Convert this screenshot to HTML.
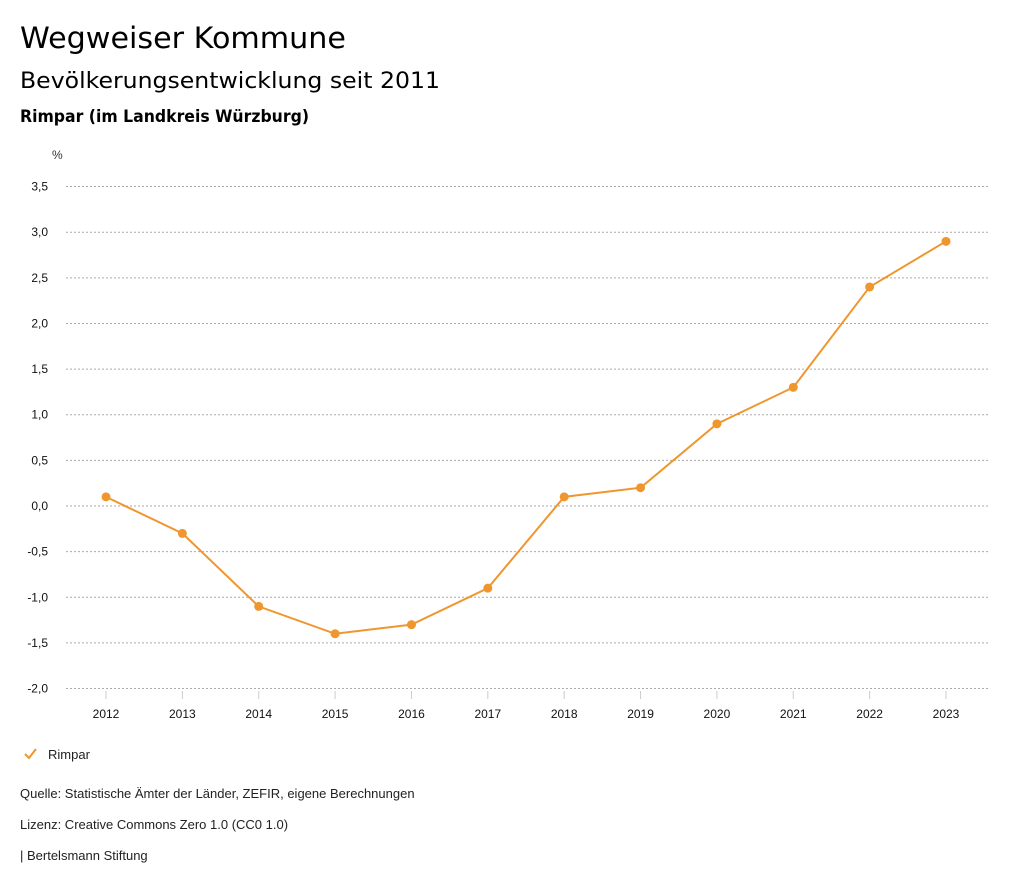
<!DOCTYPE html>
<html><head><meta charset="utf-8"><style>
html,body{margin:0;padding:0;background:#fff;}
svg{display:block;}
</style></head><body>
<svg id="c" width="1024" height="888" viewBox="0 0 1024 888" xmlns="http://www.w3.org/2000/svg">
<text x="20" y="48" font-family="DejaVu Sans, sans-serif" font-size="29" fill="#000" textLength="326" lengthAdjust="spacingAndGlyphs">Wegweiser Kommune</text>
<text x="20" y="88" font-family="DejaVu Sans, sans-serif" font-size="22" fill="#000" textLength="420" lengthAdjust="spacingAndGlyphs">Bevölkerungsentwicklung seit 2011</text>
<text x="20" y="122" font-family="DejaVu Sans, sans-serif" font-size="17" font-weight="bold" fill="#000" textLength="289" lengthAdjust="spacingAndGlyphs">Rimpar (im Landkreis Würzburg)</text>
<text x="52" y="159" font-family="Liberation Sans, sans-serif" font-size="12" fill="#333">%</text>
<g id="grid"></g>
<g id="xaxis"></g>
<g id="series"></g>
<g>
<polyline points="25,754 29,758 36,749" fill="none" stroke="#f0962e" stroke-width="2"/>
<text x="48" y="759" font-family="Liberation Sans, sans-serif" font-size="13" fill="#222">Rimpar</text>
</g>
<text x="20" y="798" font-family="Liberation Sans, sans-serif" font-size="13" fill="#222">Quelle: Statistische Ämter der Länder, ZEFIR, eigene Berechnungen</text>
<text x="20" y="829" font-family="Liberation Sans, sans-serif" font-size="13" fill="#222">Lizenz: Creative Commons Zero 1.0 (CC0 1.0)</text>
<text x="20" y="860" font-family="Liberation Sans, sans-serif" font-size="13" fill="#222">| Bertelsmann Stiftung</text>
</svg>
<script>
const years = [2012,2013,2014,2015,2016,2017,2018,2019,2020,2021,2022,2023];
const values = [0.1,-0.3,-1.1,-1.4,-1.3,-0.9,0.1,0.2,0.9,1.3,2.4,2.9];
const yTicks = [3.5,3.0,2.5,2.0,1.5,1.0,0.5,0.0,-0.5,-1.0,-1.5,-2.0];
const NS='http://www.w3.org/2000/svg';
function yS(v){return 506 - v*91.27;}
function xS(i){return 106 + i*(946-106)/(years.length-1);}
function mk(t,a,p){const e=document.createElementNS(NS,t);for(const k in a)e.setAttribute(k,a[k]);p.appendChild(e);return e;}
const grid=document.getElementById('grid');
yTicks.forEach(v=>{
  const l=mk('line',{x1:66,x2:990,y1:yS(v),y2:yS(v),stroke:'#aaa','stroke-width':1,'stroke-dasharray':'2,2'},grid);
  
  
  const t=mk('text',{x:48,y:yS(v)+4,'text-anchor':'end','font-family':'Liberation Sans, sans-serif','font-size':12,fill:'#111'},grid);
  t.textContent=v.toFixed(1).replace('.',',');
  
  
});
const xa=document.getElementById('xaxis');
years.forEach((y,i)=>{
  const l=mk('line',{x1:xS(i),x2:xS(i),y1:691,y2:699,stroke:'#ccc','stroke-width':1},xa);
  
  
  const t=mk('text',{x:xS(i),y:718,'text-anchor':'middle','font-family':'Liberation Sans, sans-serif','font-size':12,fill:'#111'},xa);
  t.textContent=y;
  
  
});
const s=document.getElementById('series');
const pl=mk('polyline',{points:values.map((v,i)=>xS(i)+','+yS(v)).join(' '),fill:'none',stroke:'#f0962e','stroke-width':2},s);


values.forEach((v,i)=>{
  const c=mk('circle',{cx:xS(i),cy:yS(v),r:4.5,fill:'#f0962e'},s);
  
  
});
</script>
</body></html>
